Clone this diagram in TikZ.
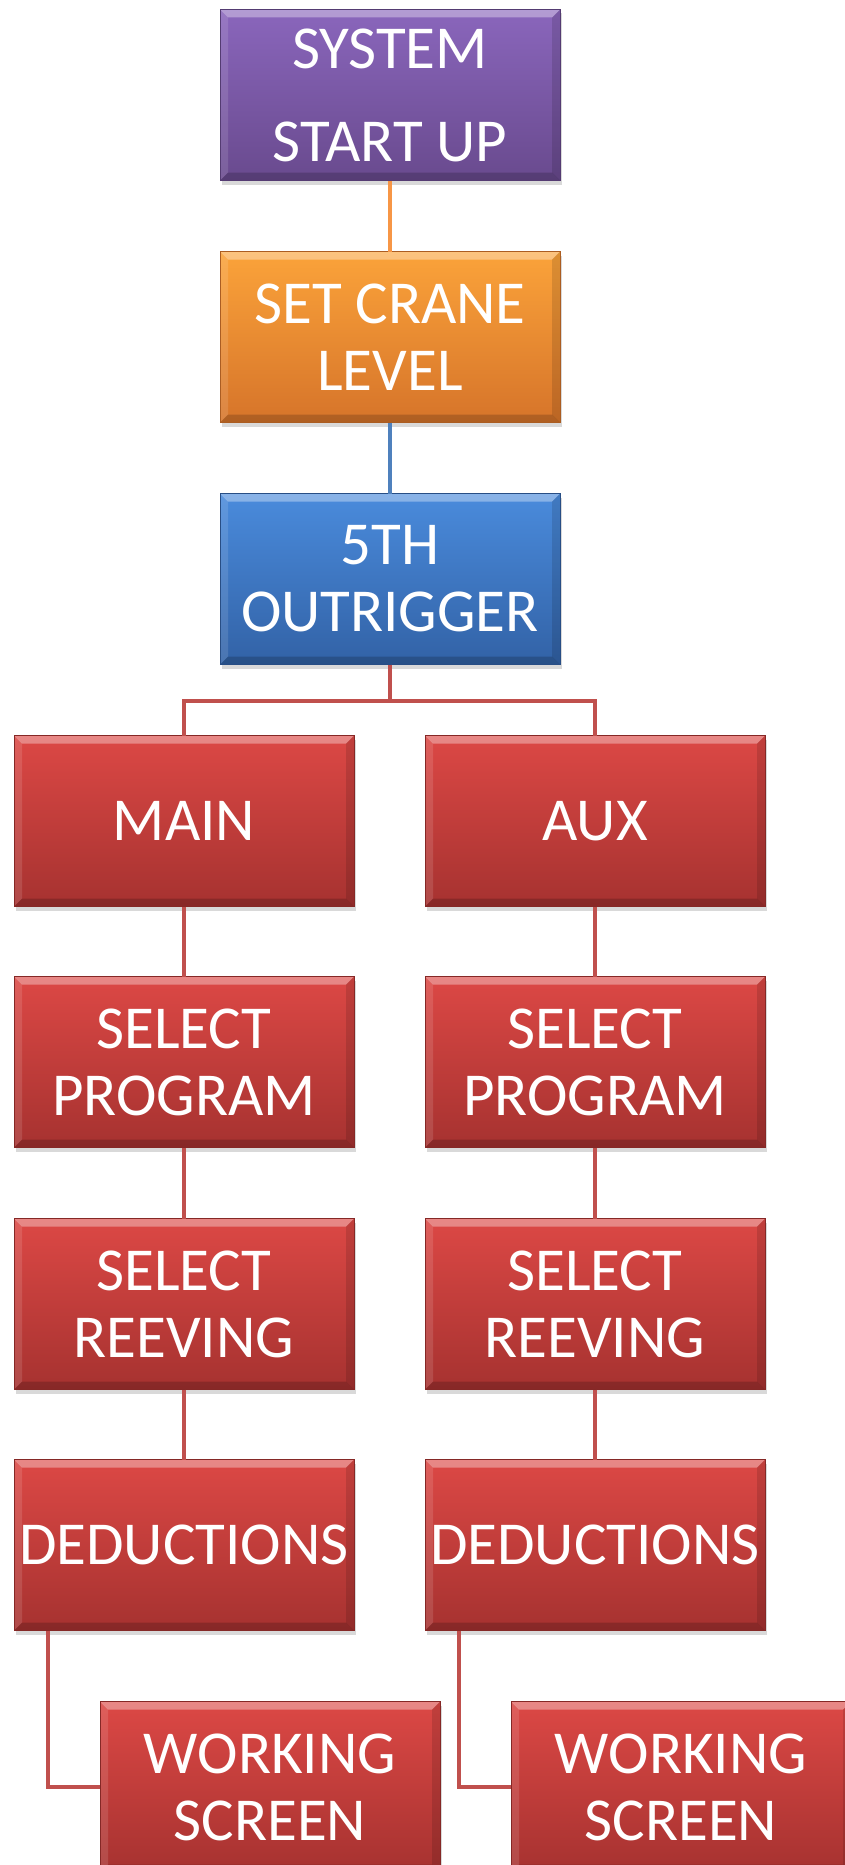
\documentclass[tikz,border=0pt]{standalone}
\usepackage{fontspec}
\setmainfont{Carlito}
\usetikzlibrary{shadows,calc}
\definecolor{purT}{HTML}{8A66BC}
\definecolor{purB}{HTML}{694A8E}
\definecolor{orgT}{HTML}{FBA33A}
\definecolor{orgB}{HTML}{D6742A}
\definecolor{bluT}{HTML}{4A8BDC}
\definecolor{bluB}{HTML}{3262A6}
\definecolor{redT}{HTML}{DC4845}
\definecolor{redB}{HTML}{A63230}
\definecolor{lnOrg}{HTML}{F79646}
\definecolor{lnBlu}{HTML}{4F81BD}
\definecolor{lnRed}{HTML}{C0504D}
\newcommand{\bevelpic}{%
  \path[fill=white,fill opacity=.35]
    (path picture bounding box.north west) -- (path picture bounding box.north east)
    -- ([shift={(-8pt,-8pt)}]path picture bounding box.north east)
    -- ([shift={(8pt,-8pt)}]path picture bounding box.north west) -- cycle;
  \path[fill=white,fill opacity=.12]
    (path picture bounding box.north west) -- (path picture bounding box.south west)
    -- ([shift={(8pt,8pt)}]path picture bounding box.south west)
    -- ([shift={(8pt,-8pt)}]path picture bounding box.north west) -- cycle;
  \path[fill=black,fill opacity=.12]
    (path picture bounding box.north east) -- (path picture bounding box.south east)
    -- ([shift={(-8pt,8pt)}]path picture bounding box.south east)
    -- ([shift={(-8pt,-8pt)}]path picture bounding box.north east) -- cycle;
  \path[fill=black,fill opacity=.18]
    (path picture bounding box.south west) -- (path picture bounding box.south east)
    -- ([shift={(-8pt,8pt)}]path picture bounding box.south east)
    -- ([shift={(8pt,8pt)}]path picture bounding box.south west) -- cycle;
}
\tikzset{
  box/.style={rectangle, minimum width=340pt, minimum height=171pt,
    inner sep=0pt, outer sep=0pt, text=white, align=center,
    font=\fontsize{61}{67}\selectfont, line width=0.8pt,
    drop shadow={opacity=0.3,shadow xshift=1.5pt,shadow yshift=-4pt},
    path picture={\bevelpic}},
  purbox/.style={box, top color=purT, bottom color=purB, draw=purB!80!black},
  orgbox/.style={box, top color=orgT, bottom color=orgB, draw=orgB!80!black},
  blubox/.style={box, top color=bluT, bottom color=bluB, draw=bluB!80!black},
  redbox/.style={box, top color=redT, bottom color=redB, draw=redB!80!black},
  conn/.style={line width=4pt, line cap=butt}
}
\begin{document}
\begin{tikzpicture}[x=1pt,y=-1pt]
\useasboundingbox (0,0) rectangle (845,1865);
\clip (0,0) rectangle (845,1865);
\node[purbox] (sys) at (390,95) {SYSTEM\\[26pt]START UP};
\node[orgbox] (crane) at (390,337) {SET CRANE\\LEVEL};
\node[blubox] (outr) at (390,579) {5TH\\OUTRIGGER};
\node[redbox] (main) at (184,821) {MAIN};
\node[redbox] (aux) at (595,821) {AUX};
\node[redbox] (progL) at (184,1062) {SELECT\\PROGRAM};
\node[redbox] (progR) at (595,1062) {SELECT\\PROGRAM};
\node[redbox] (reevL) at (184,1304) {SELECT\\REEVING};
\node[redbox] (reevR) at (595,1304) {SELECT\\REEVING};
\node[redbox] (dedL) at (184,1545) {DEDUCTIONS};
\node[redbox] (dedR) at (595,1545) {DEDUCTIONS};
\node[redbox] (workL) at (270,1787) {WORKING\\SCREEN};
\node[redbox] (workR) at (681,1787) {WORKING\\SCREEN};
\draw[conn, lnOrg] (sys.south) -- (crane.north);
\draw[conn, lnBlu] (crane.south) -- (outr.north);
\draw[conn, lnRed] (outr.south) -- ++(0,36) -| (main.north);
\draw[conn, lnRed] (outr.south) -- ++(0,36) -| (aux.north);
\draw[conn, lnRed] (main.south) -- (progL.north);
\draw[conn, lnRed] (aux.south) -- (progR.north);
\draw[conn, lnRed] (progL.south) -- (reevL.north);
\draw[conn, lnRed] (progR.south) -- (reevR.north);
\draw[conn, lnRed] (reevL.south) -- (dedL.north);
\draw[conn, lnRed] (reevR.south) -- (dedR.north);
\draw[conn, lnRed] ([xshift=-136pt]dedL.south) |- (workL.west);
\draw[conn, lnRed] ([xshift=-136pt]dedR.south) |- (workR.west);
\end{tikzpicture}
\end{document}
